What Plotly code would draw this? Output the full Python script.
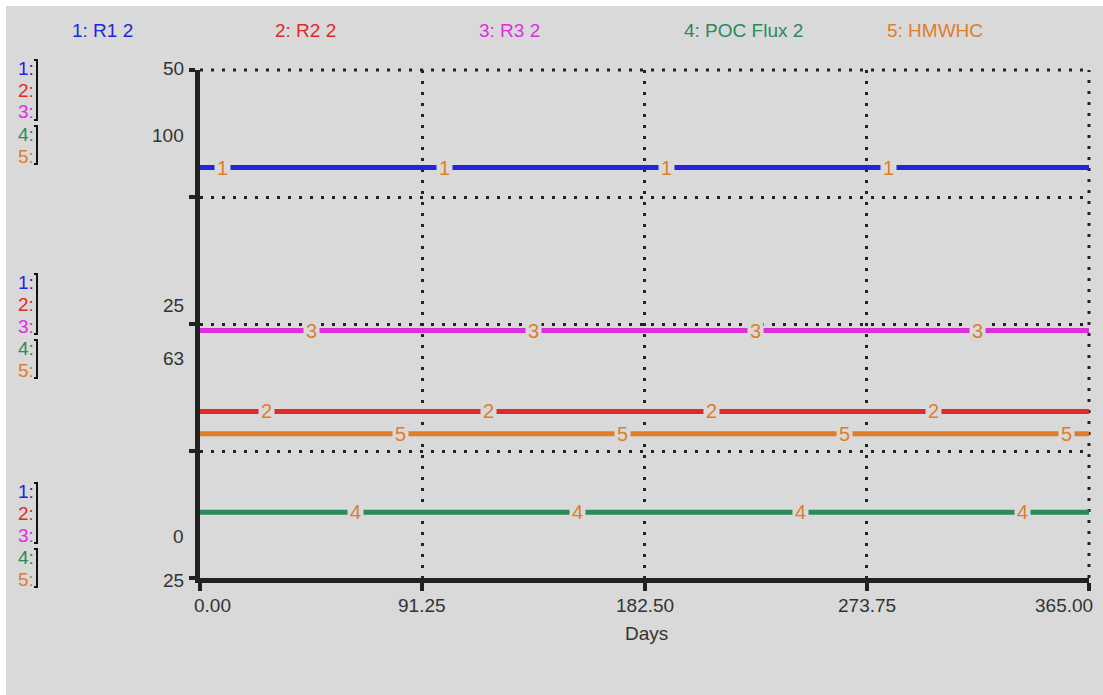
import plotly.graph_objects as go

# ---------------- data ----------------
days = [0, 365]
r1_2 = [40.4, 40.4]          # scale A (0..50)
r2_2 = [16.4, 16.4]          # scale A
r3_2 = [24.35, 24.35]        # scale A
poc_flux_2 = [34.7, 34.7]    # scale B (25..100)
hmwhc = [46.3, 46.3]         # scale B

series_names = ["1: R1 2", "2: R2 2", "3: R3 2", "4: POC Flux 2", "5: HMWHC"]
series_vals = [r1_2, r2_2, r3_2, poc_flux_2, hmwhc]
series_axis = ["y", "y", "y", "y2", "y2"]
colors = ["#2424dc", "#e02a2a", "#dc2edc", "#2a8a5a", "#e07d28"]
marker_color = "#e07d28"

x_ticks = [0, 91.25, 182.5, 273.75, 365]
x_ticktext = ["0.00", "91.25", "182.50", "273.75", "365.00"]
scaleA = [0, 50]
scaleB = [25, 100]
y_scale_labels = [("50", "100"), ("25", "63"), ("0", "25")]

# ---------------- layout geometry ----------------
W, H = 1103, 695
L, R, T, B = 200, 1089, 70, 578
BG = "#d9d9d9"
FONT = "Liberation Sans, Arial, sans-serif"
AXC = "#222222"
TXT = "#333333"
GRID_DASH = "3px,8px"


def xp(px):
    return (px - L) / (R - L)


def yp(py):
    return (B - py) / (B - T)


fig = go.Figure()
for name, vals, ax, col in zip(series_names, series_vals, series_axis, colors):
    fig.add_trace(go.Scatter(x=days, y=vals, mode="lines", name=name, yaxis=ax,
                             line=dict(color=col, width=5), showlegend=False,
                             hoverinfo="skip"))

ann = []
shapes = []

# gray panel
shapes.append(dict(type="rect", xref="paper", yref="paper", x0=xp(6), x1=xp(W),
                   y0=yp(6), y1=yp(H), fillcolor=BG, line=dict(width=0), layer="below"))

# edge grid lines (top and right) which plotly omits at range ends
shapes.append(dict(type="line", xref="paper", yref="paper", x0=0, x1=1,
                   y0=1, y1=1, layer="below",
                   line=dict(color=AXC, width=3, dash=GRID_DASH)))
shapes.append(dict(type="line", xref="paper", yref="paper", x0=1, x1=1,
                   y0=0, y1=1, layer="below",
                   line=dict(color=AXC, width=3, dash=GRID_DASH)))

# numbered markers on lines
step = (x_ticks[-1] - x_ticks[0]) / 20
for k, (vals, ax) in enumerate(zip(series_vals, series_axis)):
    for j in range(4):
        xd = step / 2 + k * step + j * (x_ticks[1] - x_ticks[0])
        ann.append(dict(x=xd, y=vals[0], xref="x", yref=ax, text=str(k + 1),
                        showarrow=False, font=dict(family=FONT, size=20, color=marker_color),
                        bgcolor=BG, borderpad=2, xanchor="center", yanchor="middle"))

# top legend
top_centers = [102, 305, 509, 743, 935]
for name, col, cx in zip(series_names, colors, top_centers):
    ann.append(dict(x=xp(cx), y=yp(31), xref="paper", yref="paper", text=name,
                    showarrow=False, font=dict(family=FONT, size=19, color=col),
                    xanchor="center", yanchor="middle"))

# left scale blocks
block_first = [68, 282, 491]
for bf in block_first:
    for i, col in enumerate(colors):
        ann.append(dict(x=xp(36), y=yp(bf + 22 * i), xref="paper", yref="paper",
                        text=f"{i + 1}:", showarrow=False,
                        font=dict(family=FONT, size=19, color=col),
                        xanchor="right", yanchor="middle"))
    for (a, b) in [(bf - 8, bf + 52), (bf + 58, bf + 96)]:
        path = (f"M {xp(34)},{yp(a)} L {xp(37)},{yp(a)} L {xp(37)},{yp(b)} "
                f"L {xp(34)},{yp(b)}")
        shapes.append(dict(type="path", xref="paper", yref="paper", path=path,
                           line=dict(color="#111111", width=2)))

# scale values at left
label_pos = [(68, 135), (305, 358), (536, 580)]
for (ta, tb), (pa, pb) in zip(y_scale_labels, label_pos):
    for t, p in [(ta, pa), (tb, pb)]:
        ann.append(dict(x=xp(186), y=yp(p), xref="paper", yref="paper", text=t,
                        showarrow=False, font=dict(family=FONT, size=19, color=TXT),
                        xanchor="right", yanchor="middle"))

# x tick labels
for i, (v, t) in enumerate(zip(x_ticks, x_ticktext)):
    if i == 0:
        xa, xs = "left", -8
    elif i == len(x_ticks) - 1:
        xa, xs = "right", 6
    else:
        xa, xs = "center", 0
    ann.append(dict(x=v, y=yp(605), xref="x", yref="paper", text=t, showarrow=False,
                    font=dict(family=FONT, size=19, color=TXT), xanchor=xa, xshift=xs,
                    yanchor="middle"))

ann.append(dict(x=xp(646), y=yp(633), xref="paper", yref="paper", text="Days",
                showarrow=False, font=dict(family=FONT, size=19, color=TXT),
                xanchor="center", yanchor="middle"))

fig.update_layout(
    width=W, height=H, autosize=False,
    margin=dict(l=L, r=W - R, t=T, b=H - B, pad=0),
    paper_bgcolor="white", plot_bgcolor="rgba(0,0,0,0)",
    font=dict(family=FONT, size=19, color=TXT),
    showlegend=False,
    annotations=ann, shapes=shapes,
    xaxis=dict(range=[x_ticks[0], x_ticks[-1]], tickvals=x_ticks, showticklabels=False,
               showline=True, linecolor=AXC, linewidth=5, ticks="outside", ticklen=8,
               tickwidth=4, tickcolor=AXC, showgrid=True, gridcolor=AXC, gridwidth=3,
               griddash=GRID_DASH, zeroline=False, fixedrange=True),
    yaxis=dict(range=scaleA, tickvals=[0, 12.5, 25, 37.5, 50], showticklabels=False,
               showline=True, linecolor=AXC, linewidth=5, ticks="outside", ticklen=6,
               tickwidth=4, tickcolor=AXC, showgrid=True, gridcolor=AXC, gridwidth=3,
               griddash=GRID_DASH, zeroline=False, fixedrange=True),
    yaxis2=dict(range=scaleB, overlaying="y", visible=False, showgrid=False,
                zeroline=False, fixedrange=True),
)

fig.write_html("out.html", config={"displayModeBar": False, "staticPlot": True})
with open("out.html", "r", encoding="utf-8") as f:
    html = f.read()
html = html.replace("<body>", "<body style=\"margin:0;padding:0;overflow:hidden\">", 1)
with open("out.html", "w", encoding="utf-8") as f:
    f.write(html)
